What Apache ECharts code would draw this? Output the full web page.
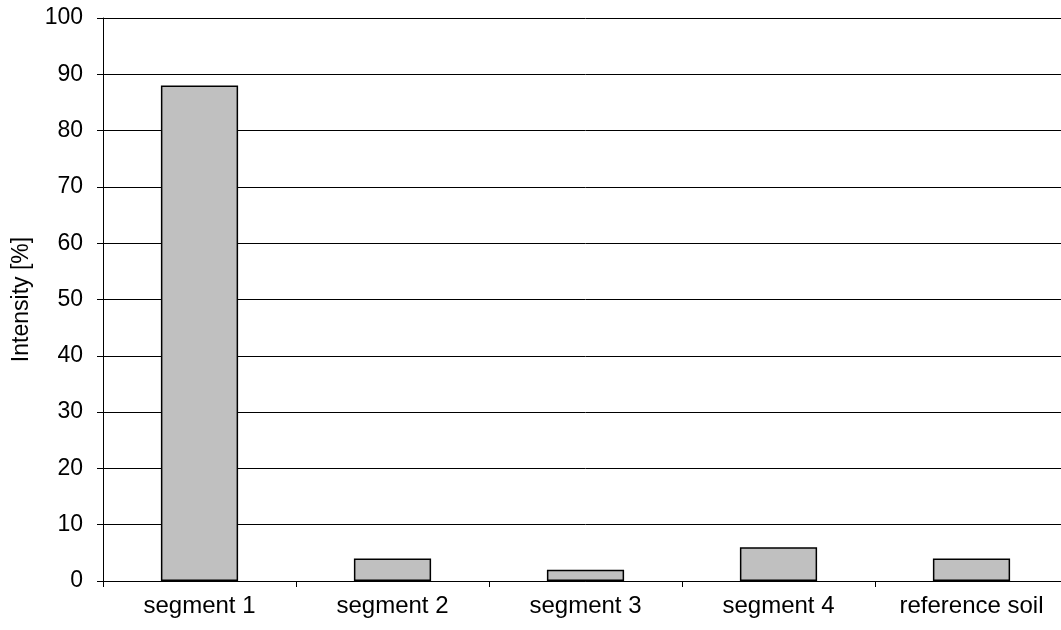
<!DOCTYPE html>
<html>
<head>
<meta charset="utf-8">
<script src="https://cdn.jsdelivr.net/npm/echarts@6/dist/echarts.min.js"></script>
<style>
  html, body { margin: 0; padding: 0; background: #fff; overflow: hidden; }
  /* 图表比窗口略宽，右边被裁掉，和原图一致 */
  #chart { width: 1068px; height: 630px; }
</style>
</head>
<body>
<div id="chart"></div>
<script>
// 类别与数值
var categories = ["segment 1", "segment 2", "segment 3", "segment 4", "reference soil"];
var intensity = [88, 4, 2, 6, 4];
var yTicks = [0, 10, 20, 30, 40, 50, 60, 70, 80, 90, 100];

var chart = echarts.init(document.getElementById("chart"));
var font = "Liberation Sans, Arial, sans-serif";

chart.setOption({
  animation: false,
  grid: { left: 103, right: 0, top: 18, bottom: 49 },
  xAxis: {
    type: "category",
    data: categories,
    axisLine: { lineStyle: { color: "#000", width: 1 } },
    axisTick: { show: true, length: 6, lineStyle: { color: "#000" } },
    axisLabel: { color: "#000", fontSize: 24, fontFamily: font, margin: 13 }
  },
  yAxis: {
    type: "value",
    min: yTicks[0],
    max: yTicks[yTicks.length - 1],
    interval: 10,
    name: "Intensity [%]",
    nameLocation: "middle",
    nameGap: 70,
    nameTextStyle: { color: "#000", fontSize: 23, fontFamily: font },
    axisLine: { show: true, lineStyle: { color: "#000", width: 1 } },
    axisTick: { show: true, length: 6, lineStyle: { color: "#000" } },
    axisLabel: { color: "#000", fontSize: 23, fontFamily: font, margin: 20 },
    splitLine: { show: true, lineStyle: { color: "#000", width: 1 } }
  },
  series: [{
    type: "bar",
    data: intensity,
    barWidth: "40%",
    itemStyle: { color: "#c0c0c0", borderColor: "#000", borderWidth: 1.5 }
  }]
});
</script>
</body>
</html>
